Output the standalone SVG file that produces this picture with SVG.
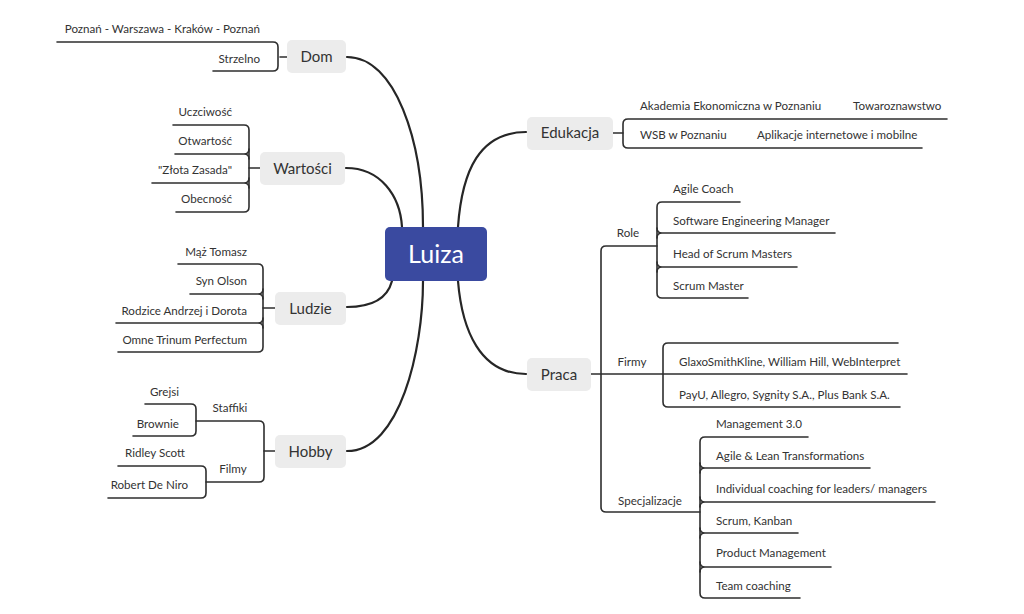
<svg xmlns="http://www.w3.org/2000/svg" width="1024" height="614" viewBox="0 0 1024 614">
<style>
.bg{fill:#ffffff}
.ln{fill:none;stroke:#2e2e2e;stroke-width:1.6;stroke-linecap:round;stroke-linejoin:round}
.cv{fill:none;stroke:#262626;stroke-width:2.2;stroke-linecap:round}
.box{fill:#ececec}
.t{font-family:Lato,"Open Sans","Liberation Sans",sans-serif;font-size:11.6px;fill:#333}
.e{text-anchor:end}
.m{text-anchor:middle}
.n{font-family:Lato,"Open Sans","Liberation Sans",sans-serif;font-size:15px;fill:#333;text-anchor:middle}
.root{fill:#3a4aa0}
.rt{font-family:Lato,"Open Sans","Liberation Sans",sans-serif;font-size:25px;fill:#fff;text-anchor:middle}
</style>
<rect class="bg" x="0" y="0" width="1024" height="614"/>
<g id="connectors">
  <path class="cv" d="M347,57 C395,57 423,140 423,227"/>
  <path class="cv" d="M346,168 C380,168 400,195 402,227"/>
  <path class="cv" d="M347,307 C375,307 388,296 392,281"/>
  <path class="cv" d="M347,451 C400,451 423,350 423,281"/>
  <path class="cv" d="M526,132 C480,132 462,170 458,227"/>
  <path class="cv" d="M526,374 C480,374 462,330 458,281"/>
  <path class="ln" d="M280,57 H287"/>
  <path class="ln" d="M57,42 H273 Q278,42 278,47 V66 Q278,71 273,71 H213"/>
  <path class="ln" d="M249,168 H260"/>
  <path class="ln" d="M173,125 H244 Q249,125 249,130 V207 Q249,212 244,212 H176"/>
  <path class="ln" d="M175,154 H244 Q249,154 249,159 M244,154 Q249,154 249,149"/>
  <path class="ln" d="M152,183 H244 Q249,183 249,188 M244,183 Q249,183 249,178"/>
  <path class="ln" d="M263,308 H275"/>
  <path class="ln" d="M178,264 H258 Q263,264 263,269 V347 Q263,352 258,352 H118"/>
  <path class="ln" d="M190,294 H258 Q263,294 263,299 M258,294 Q263,294 263,289"/>
  <path class="ln" d="M116,323 H258 Q263,323 263,328 M258,323 Q263,323 263,318"/>
  <path class="ln" d="M264,451 H275"/>
  <path class="ln" d="M196,421 H259 Q264,421 264,426 V477 Q264,482 259,482 H206"/>
  <path class="ln" d="M145,404 H191 Q196,404 196,409 V431 Q196,436 191,436 H133"/>
  <path class="ln" d="M118,466 H201 Q206,466 206,471 V493 Q206,498 201,498 H108"/>
  <path class="ln" d="M613,133 H623"/>
  <path class="ln" d="M947,119 H628 Q623,119 623,124 V143 Q623,148 628,148 H922"/>
  <path class="ln" d="M591,374 H907"/>
  <path class="ln" d="M657,246 H606 Q601,246 601,251 V507 Q601,512 606,512 H700"/>
  <path class="ln" d="M740,202 H662 Q657,202 657,207 V293 Q657,298 662,298 H748"/>
  <path class="ln" d="M835,233 H662 Q657,233 657,238 M662,233 Q657,233 657,228"/>
  <path class="ln" d="M797,267 H662 Q657,267 657,272 M662,267 Q657,267 657,262"/>
  <path class="ln" d="M898,343 H668 Q663,343 663,348 V402 Q663,407 668,407 H900"/>
  <path class="ln" d="M808,437 H705 Q700,437 700,442 V593 Q700,598 705,598 H800"/>
  <path class="ln" d="M870,468 H705 Q700,468 700,473 M705,468 Q700,468 700,463"/>
  <path class="ln" d="M935,502 H705 Q700,502 700,507 M705,502 Q700,502 700,497"/>
  <path class="ln" d="M798,533 H705 Q700,533 700,538 M705,533 Q700,533 700,528"/>
  <path class="ln" d="M831,567 H705 Q700,567 700,572 M705,567 Q700,567 700,562"/>
</g>
<g id="luiza"><rect class="root" x="385" y="227" width="102" height="54" rx="5"/><text class="rt" x="436" y="263">Luiza</text></g>
<g id="dom"><rect class="box" x="287" y="40" width="59" height="33" rx="5"/><text class="n" x="316.5" y="62">Dom</text></g>
<g id="dom-1"><text class="t e" x="260" y="33">Poznań - Warszawa - Kraków - Poznań</text></g>
<g id="dom-2"><text class="t e" x="260" y="63">Strzelno</text></g>
<g id="wartosci"><rect class="box" x="260" y="152" width="85" height="33" rx="5"/><text class="n" x="302.5" y="174">Wartości</text></g>
<g id="w-1"><text class="t e" x="232" y="116">Uczciwość</text></g>
<g id="w-2"><text class="t e" x="232" y="145">Otwartość</text></g>
<g id="w-3"><text class="t e" x="232" y="174">"Złota Zasada"</text></g>
<g id="w-4"><text class="t e" x="232" y="203">Obecność</text></g>
<g id="ludzie"><rect class="box" x="275" y="292" width="71" height="33" rx="5"/><text class="n" x="310.5" y="314">Ludzie</text></g>
<g id="l-1"><text class="t e" x="247" y="256">Mąż Tomasz</text></g>
<g id="l-2"><text class="t e" x="247" y="285">Syn Olson</text></g>
<g id="l-3"><text class="t e" x="247" y="315">Rodzice Andrzej i Dorota</text></g>
<g id="l-4"><text class="t e" x="247" y="344">Omne Trinum Perfectum</text></g>
<g id="hobby"><rect class="box" x="275" y="435" width="71" height="33" rx="5"/><text class="n" x="310.5" y="457">Hobby</text></g>
<g id="staffiki"><text class="t m" x="230" y="412">Staffiki</text></g>
<g id="grejsi"><text class="t e" x="179" y="396">Grejsi</text></g>
<g id="brownie"><text class="t e" x="179" y="428">Brownie</text></g>
<g id="filmy-h"><text class="t m" x="233" y="473">Filmy</text></g>
<g id="ridley"><text class="t e" x="185" y="457">Ridley Scott</text></g>
<g id="deniro"><text class="t e" x="188" y="489">Robert De Niro</text></g>
<g id="edukacja"><rect class="box" x="527" y="117" width="86" height="33" rx="5"/><text class="n" x="570" y="138">Edukacja</text></g>
<g id="e-1"><text class="t" x="640" y="110">Akademia Ekonomiczna w Poznaniu</text></g>
<g id="e-1-1"><text class="t" x="853" y="110">Towaroznawstwo</text></g>
<g id="e-2"><text class="t" x="640" y="139">WSB w Poznaniu</text></g>
<g id="e-2-1"><text class="t" x="757" y="139">Aplikacje internetowe i mobilne</text></g>
<g id="praca"><rect class="box" x="527" y="358" width="64" height="33" rx="5"/><text class="n" x="559" y="380">Praca</text></g>
<g id="role"><text class="t m" x="628" y="237">Role</text></g>
<g id="r-1"><text class="t" x="673" y="193">Agile Coach</text></g>
<g id="r-2"><text class="t" x="673" y="225">Software Engineering Manager</text></g>
<g id="r-3"><text class="t" x="673" y="258">Head of Scrum Masters</text></g>
<g id="r-4"><text class="t" x="673" y="290">Scrum Master</text></g>
<g id="firmy"><text class="t m" x="632" y="366">Firmy</text></g>
<g id="f-1"><text class="t" x="679" y="366">GlaxoSmithKline, William Hill, WebInterpret</text></g>
<g id="f-2"><text class="t" x="679" y="399">PayU, Allegro, Sygnity S.A., Plus Bank S.A.</text></g>
<g id="specjalizacje"><text class="t m" x="650" y="505">Specjalizacje</text></g>
<g id="s-1"><text class="t" x="716" y="428">Management 3.0</text></g>
<g id="s-2"><text class="t" x="716" y="460">Agile &amp; Lean Transformations</text></g>
<g id="s-3"><text class="t" x="716" y="493">Individual coaching for leaders/ managers</text></g>
<g id="s-4"><text class="t" x="716" y="525">Scrum, Kanban</text></g>
<g id="s-5"><text class="t" x="716" y="557">Product Management</text></g>
<g id="s-6"><text class="t" x="716" y="590">Team coaching</text></g>
</svg>
